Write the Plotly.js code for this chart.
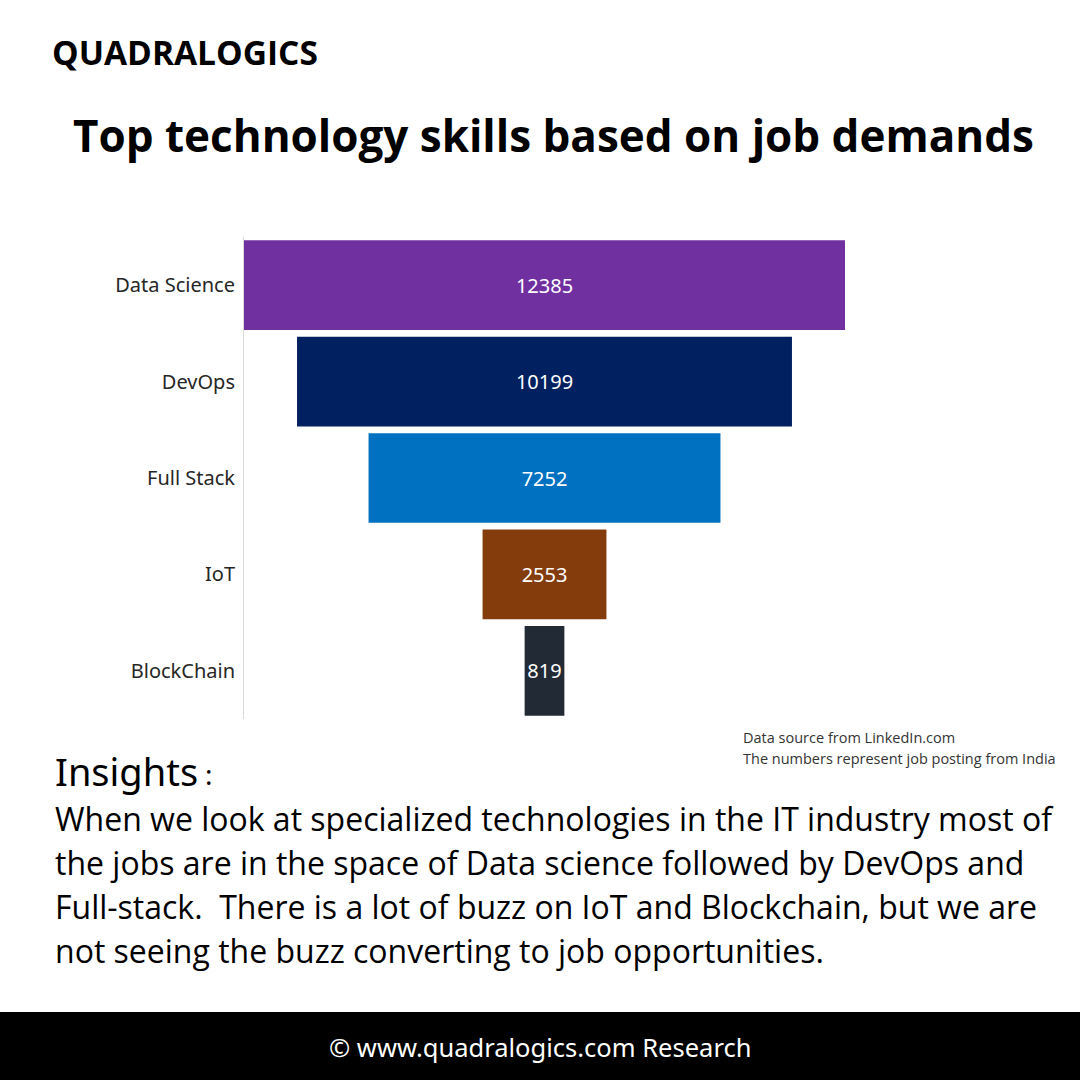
<!DOCTYPE html>
<html>
<head>
<meta charset="utf-8">
<script src="https://cdn.plot.ly/plotly-3.0.1.min.js"></script>
<style>
  html, body { margin: 0; padding: 0; background: #fff; }
  #chart { width: 1080px; height: 1080px; }
</style>
</head>
<body>
<div id="chart"></div>
<script>
// Dados do gráfico
const skills = ['Data Science', 'DevOps', 'Full Stack', 'IoT', 'BlockChain'];
const jobPostings = [12385, 10199, 7252, 2553, 819];
const barColors = ['#7030A0', '#002060', '#0070C0', '#843C0C', '#222A35'];

const insightLines = [
    'When we look at specialized technologies in the IT industry most of',
    'the jobs are in the space of Data science followed by DevOps and',
    'Full-stack.  There is a lot of buzz on IoT and Blockchain, but we are',
    'not seeing the buzz converting to job opportunities.'
];
const sourceLines = [
    'Data source from LinkedIn.com',
    'The numbers represent job posting from India'
];

// Área do gráfico em pixels
const W = 1080, H = 1080;
const M = { l: 244, r: 235, t: 237, b: 361 };
const plotW = W - M.l - M.r;
const plotH = H - M.t - M.b;
const px = x => (x - M.l) / plotW;
const py = y => (H - M.b - y) / plotH;

const maxVal = Math.max(...jobPostings);

const trace = {
    type: 'funnel',
    y: skills,
    x: jobPostings,
    marker: { color: barColors, line: { width: 0 } },
    connector: { visible: false },
    texttemplate: '%{x:.0f}',
    textposition: 'inside',
    constraintext: 'none',
    insidetextfont: { family: 'Noto Sans, sans-serif', size: 20, color: '#ffffff' },
    hoverinfo: 'y+x'
};

const annotations = [];
function addText(text, x, y, size, opts = {}) {
    annotations.push(Object.assign({
        text: text,
        xref: 'paper', yref: 'paper',
        x: px(x), y: py(y),
        xanchor: 'left', yanchor: 'middle',
        showarrow: false,
        font: { family: 'Open Sans, sans-serif', size: size, color: '#000000' }
    }, opts));
}

// Títulos
addText('<b>QUADRALOGICS</b>', 50, 52, 33.5);
addText('<b>Top technology skills based on job demands</b>', 553, 135, 44, { xanchor: 'center' });

// Fonte dos dados
sourceLines.forEach((line, i) => {
    addText(line, 741, 737 + i * 21, 14.5, { font: { family: 'Open Sans, sans-serif', size: 14.5, color: '#333333' } });
});

// Insights
addText('Insights', 53, 771, 38, { font: { family: 'Noto Sans, sans-serif', size: 38, color: '#000000' } });
addText(':', 203, 774, 28, { font: { family: 'Noto Sans, sans-serif', size: 28, color: '#000000' } });
insightLines.forEach((line, i) => {
    addText(line, 53, 818 + i * 44, 32, { font: { family: 'Open Sans, sans-serif', size: 32, color: '#000000' } });
});

// Rodapé
addText('© www.quadralogics.com Research', 540, 1047, 25.5, {
    xanchor: 'center',
    font: { family: 'Noto Sans, sans-serif', size: 25.5, color: '#ffffff' }
});

const layout = {
    width: W,
    height: H,
    margin: M,
    paper_bgcolor: '#ffffff',
    plot_bgcolor: '#ffffff',
    showlegend: false,
    funnelgap: 0.07,
    xaxis: {
        visible: false,
        range: [-maxVal / 2, maxVal / 2],
        fixedrange: true
    },
    yaxis: {
        showline: true,
        linecolor: '#d9d9d9',
        linewidth: 1,
        showgrid: false,
        ticks: '',
        ticklabelstandoff: 4,
        tickfont: { family: 'Noto Sans, sans-serif', size: 20, color: '#262626' }
    },
    shapes: [{
        type: 'rect',
        xref: 'paper', yref: 'paper',
        x0: px(0), x1: px(W),
        y0: py(1012), y1: py(H),
        fillcolor: '#000000',
        line: { width: 0 },
        layer: 'below'
    }],
    annotations: annotations
};

Plotly.newPlot('chart', [trace], layout, { displayModeBar: false, staticPlot: true });
</script>
</body>
</html>
